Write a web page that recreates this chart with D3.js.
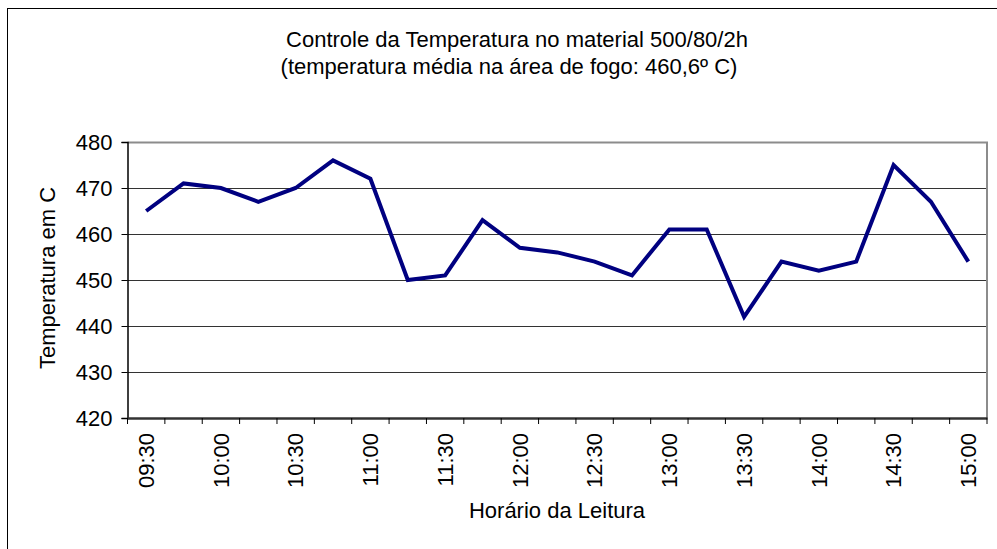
<!DOCTYPE html>
<html>
<head>
<meta charset="utf-8">
<script src="https://cdn.jsdelivr.net/npm/d3@7"></script>
<style>
  html, body { margin: 0; padding: 0; background: #fff; }
  svg { display: block; font-family: Arial, "Liberation Sans", sans-serif; }
</style>
</head>
<body>
<svg id="chart" width="997" height="549"></svg>
<script>
// Readings every 15 minutes
const times = ["09:30","09:45","10:00","10:15","10:30","10:45","11:00","11:15",
               "11:30","11:45","12:00","12:15","12:30","12:45","13:00","13:15",
               "13:30","13:45","14:00","14:15","14:30","14:45","15:00"];
const temps = [465, 471, 470, 467, 470, 476, 472, 450,
               451, 463, 457, 456, 454, 451, 461, 461,
               442, 454, 452, 454, 475, 467, 454];
const yTicks = [420, 430, 440, 450, 460, 470, 480];

const titleLines = ["Controle da Temperatura no material 500/80/2h",
                    "(temperatura média na área de fogo: 460,6º C)"];
const yTitle = "Temperatura em C";
const xTitle = "Horário da Leitura";

const svg = d3.select("#chart");
const plotLeft = 127.5, plotRight = 987, plotTop = 142, plotBottom = 418;
const fontSize = 22;

// outer chart frame
svg.append("rect")
  .attr("x", 7.5).attr("y", 8.5)
  .attr("width", 1100).attr("height", 600)
  .attr("fill", "#fff").attr("stroke", "#000").attr("stroke-width", 1);

const x = d3.scaleBand().domain(times).range([plotLeft, plotRight]).padding(0);
const y = d3.scaleLinear().domain([420, 480]).range([plotBottom, plotTop]);

// horizontal gridlines
svg.append("g").selectAll("line")
  .data(yTicks.filter(v => v > 420 && v < 480))
  .join("line")
  .attr("x1", plotLeft).attr("x2", plotRight)
  .attr("y1", d => Math.round(y(d)) + 0.5).attr("y2", d => Math.round(y(d)) + 0.5)
  .attr("stroke", "#333").attr("stroke-width", 1);

// plot area border (top and right)
svg.append("path")
  .attr("d", `M${plotLeft},${plotTop + 0.5}H${plotRight}V${plotBottom}`)
  .attr("fill", "none").attr("stroke", "#8c8c8c").attr("stroke-width", 2);

// y axis
const yAxis = svg.append("g")
  .attr("transform", `translate(${plotLeft},0)`)
  .call(d3.axisLeft(y).tickValues(yTicks).tickSize(6).tickPadding(9).tickFormat(d3.format("d")));
yAxis.select(".domain").attr("stroke", "#000").attr("stroke-width", 1.5);
yAxis.selectAll(".tick line").attr("stroke", "#000");
yAxis.selectAll("text").attr("font-size", fontSize).attr("fill", "#000")
  .attr("font-family", "Arial, 'Liberation Sans', sans-serif");

// x axis: labels every other reading, marks between categories
const xAxis = svg.append("g")
  .attr("transform", `translate(0,${plotBottom})`)
  .call(d3.axisBottom(x).tickSize(0).tickSizeOuter(0)
        .tickFormat((d, i) => i % 2 === 0 ? d : ""));
xAxis.select(".domain").attr("stroke", "#333").attr("stroke-width", 2.5);
xAxis.selectAll("text")
  .attr("font-size", fontSize).attr("fill", "#000")
  .attr("font-family", "Arial, 'Liberation Sans', sans-serif")
  .attr("text-anchor", "end")
  .attr("dy", "0.35em")
  .attr("transform", "translate(0,15) rotate(-90)")
  .attr("x", 0).attr("y", 0);

const boundaries = times.map(t => x(t)).concat([x.range()[1]]);
svg.append("g").selectAll("line")
  .data(boundaries)
  .join("line")
  .attr("x1", d => d).attr("x2", d => d)
  .attr("y1", plotBottom).attr("y2", plotBottom + 6)
  .attr("stroke", "#000").attr("stroke-width", 1);

// temperature line
const line = d3.line()
  .x((d, i) => x(times[i]) + x.bandwidth() / 2)
  .y(d => y(d));
svg.append("path")
  .datum(temps)
  .attr("d", line)
  .attr("fill", "none")
  .attr("stroke", "#000080")
  .attr("stroke-width", 4)
  .attr("stroke-linejoin", "miter");

// titles
svg.append("text").attr("x", 517).attr("y", 47)
  .attr("text-anchor", "middle").attr("font-size", fontSize).text(titleLines[0]);
svg.append("text").attr("x", 509).attr("y", 74)
  .attr("text-anchor", "middle").attr("font-size", fontSize).text(titleLines[1]);

svg.append("text")
  .attr("transform", `translate(55,278) rotate(-90)`)
  .attr("text-anchor", "middle").attr("font-size", fontSize).text(yTitle);

svg.append("text").attr("x", 557).attr("y", 518)
  .attr("text-anchor", "middle").attr("font-size", fontSize).text(xTitle);
</script>
</body>
</html>
